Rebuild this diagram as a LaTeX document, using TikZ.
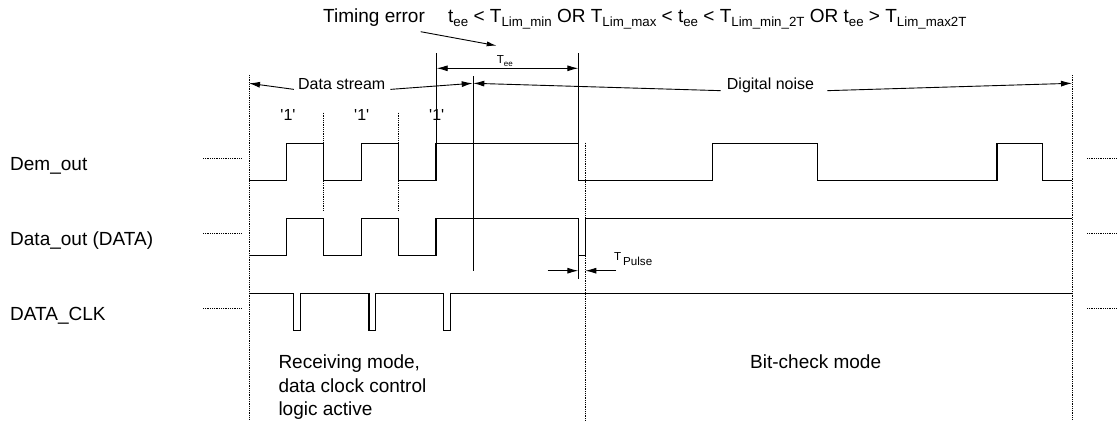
\documentclass[tikz,border=0pt]{standalone}
\usepackage{fontspec}
\newfontfamily\plainsans{Liberation Sans}
\usetikzlibrary{arrows.meta}
\newcommand{\sbx}[1]{\raisebox{-4.5pt}{\fontsize{13.3}{14}\selectfont #1}}
\begin{document}
\begin{tikzpicture}[x=1pt,y=-1pt,
  wave/.style={line width=1.1pt, line join=miter},
  solidline/.style={line width=1.0pt},
  dots/.style={line width=0.8pt, dash pattern=on 0.9pt off 0.9pt},
  tip/.style={-{Latex[length=11pt,width=6pt]}},
  dim/.style={line width=0.9pt, tip},
  lbl/.style={font=\plainsans\fontsize{19}{23.7}\selectfont, inner sep=0pt},
  mid/.style={font=\plainsans\fontsize{16}{19}\selectfont, inner sep=0pt},
  small/.style={font=\plainsans\fontsize{11.6}{13}\selectfont, inner sep=0pt}]
\useasboundingbox (0,0) rectangle (1117,423);

% signal names
\node[lbl, anchor=base west] (ldem) at (10,170) {Dem\_out};
\node[lbl, anchor=base west] (ldata) at (10,245) {Data\_out (DATA)};
\node[lbl, anchor=base west] (lclk) at (10,320) {DATA\_CLK};

% dotted stubs
\foreach \yy in {158,233,308}{
  \draw[dots] (203,\yy) -- (242,\yy);
  \draw[dots] (1087,\yy) -- (1117,\yy);
}

% boundaries
\coordinate (bLt) at (249,75);   \coordinate (bLb) at (249,420);
\coordinate (bMt) at (585.3,142.7); \coordinate (bMb) at (585.3,420);
\coordinate (bRt) at (1072,75);  \coordinate (bRb) at (1072,420);
\draw[dots] (bLt) -- (bLb);
\draw[dots] (bMt) -- (bMb);
\draw[dots] (bRt) -- (bRb);
\draw[dots] (323.7,112.7) -- (323.7,210.7);
\draw[dots] (398.3,112.7) -- (398.3,210.7);

% waveforms
\draw[wave] (249,180.7) -- (286.7,180.7) -- (286.7,143.3) -- (323.7,143.3) -- (323.7,180.7)
  -- (361.3,180.7) -- (361.3,143.3) -- (398.3,143.3) -- (398.3,180.7)
  -- (436,180.7) -- (436,143.3) -- (578.3,143.3) -- (578.3,180.7)
  -- (712.7,180.7) -- (712.7,143.3) -- (817.7,143.3) -- (817.7,180.7)
  -- (997,180.7) -- (997,143.3) -- (1042.3,143.3) -- (1042.3,180.7) -- (1072,180.7);
\draw[wave] (249,255.7) -- (286.7,255.7) -- (286.7,218.7) -- (323.7,218.7) -- (323.7,255.7)
  -- (361.3,255.7) -- (361.3,218.7) -- (398.3,218.7) -- (398.3,255.7)
  -- (436,255.7) -- (436,218.7) -- (578.3,218.7) -- (578.3,255.7)
  -- (585.3,255.7) -- (585.3,218.7) -- (1072,218.7);
\draw[wave] (249,293.3) -- (293.7,293.3) -- (293.7,330.7) -- (300.7,330.7) -- (300.7,293.3)
  -- (369,293.3) -- (369,330.7) -- (375.3,330.7) -- (375.3,293.3)
  -- (443.7,293.3) -- (443.7,330.7) -- (450.7,330.7) -- (450.7,293.3) -- (1072,293.3);

% reference verticals
\draw[solidline] (436.7,53) -- (436.7,158);
\draw[solidline] (578.3,53) -- (578.3,143.3);
\draw[solidline] (473.3,76) -- (473.3,270.7);
\draw[solidline] (578.3,255.7) -- (578.3,278.7);

% T_ee
\coordinate (teeL) at (436.7,68.3);
\coordinate (teeR) at (578.3,68.3);
\draw[dim, {Latex[length=11pt,width=6pt]}-{Latex[length=11pt,width=6pt]}] (teeL) -- (teeR);
\node[small, anchor=base west] (tee) at (496.7,63.3) {T\raisebox{-3pt}{\fontsize{8}{9}\selectfont ee}};

% Data stream / Digital noise
\node[mid, anchor=base] (ds) at (341.7,89.3) {Data stream};
\node[mid, anchor=base] (dn) at (770.5,89.3) {Digital noise};
\coordinate (dsL) at (249,83.3);
\coordinate (dsR) at (472.7,83.3);
\coordinate (dnL) at (473.3,83.3);
\coordinate (dnR) at (1072,83.3);
\draw[dim] ([xshift=-4pt,yshift=-5.5pt]ds.west) -- (dsL);
\draw[dim] ([xshift=5pt,yshift=-5.5pt]ds.east) -- (dsR);
\draw[dim] ([xshift=-6pt,yshift=-5.5pt]dn.west) -- (dnL);
\draw[dim] ([xshift=13pt,yshift=-5.5pt]dn.east) -- (dnR);

% '1' labels
\node[mid, anchor=base] (one1) at (288,120) {'1'};
\node[mid, anchor=base] (one2) at (361.7,120) {'1'};
\node[mid, anchor=base] (one3) at (436.7,120) {'1'};

% Timing error
\node[lbl, anchor=base west] (terr) at (323,22) {Timing error};
\node[lbl, anchor=base west] (formula) at (448,22)
  {t\sbx{ee} < T\sbx{Lim\_min} OR T\sbx{Lim\_max} < t\sbx{ee} < T\sbx{Lim\_min\_2T} OR t\sbx{ee} > T\sbx{Lim\_max2T}};
\coordinate (terrS) at (420.7,31.7);
\coordinate (terrT) at (496.7,45.7);
\draw[line width=0.9pt, -{Latex[length=10pt,width=5pt]}] (terrS) -- (terrT);

% T_Pulse
\coordinate (tpL) at (578.3,270.7);
\coordinate (tpR) at (585.3,270.7);
\coordinate (tpLs) at (547.7,270.7);
\coordinate (tpRs) at (616,270.7);
\draw[dim] (tpLs) -- (tpL);
\draw[dim] (tpRs) -- (tpR);
\node[small, anchor=base west] (tpulse) at (614,260) {T\,\raisebox{-5pt}{Pulse}};

% modes
\node[lbl, anchor=base west, align=left] (recv) at (278.3,415.7)
  {Receiving mode,\\data clock control\\logic active};
\node[lbl, anchor=base west] (bitc) at (750,368.3) {Bit-check mode};
\end{tikzpicture}
\end{document}
